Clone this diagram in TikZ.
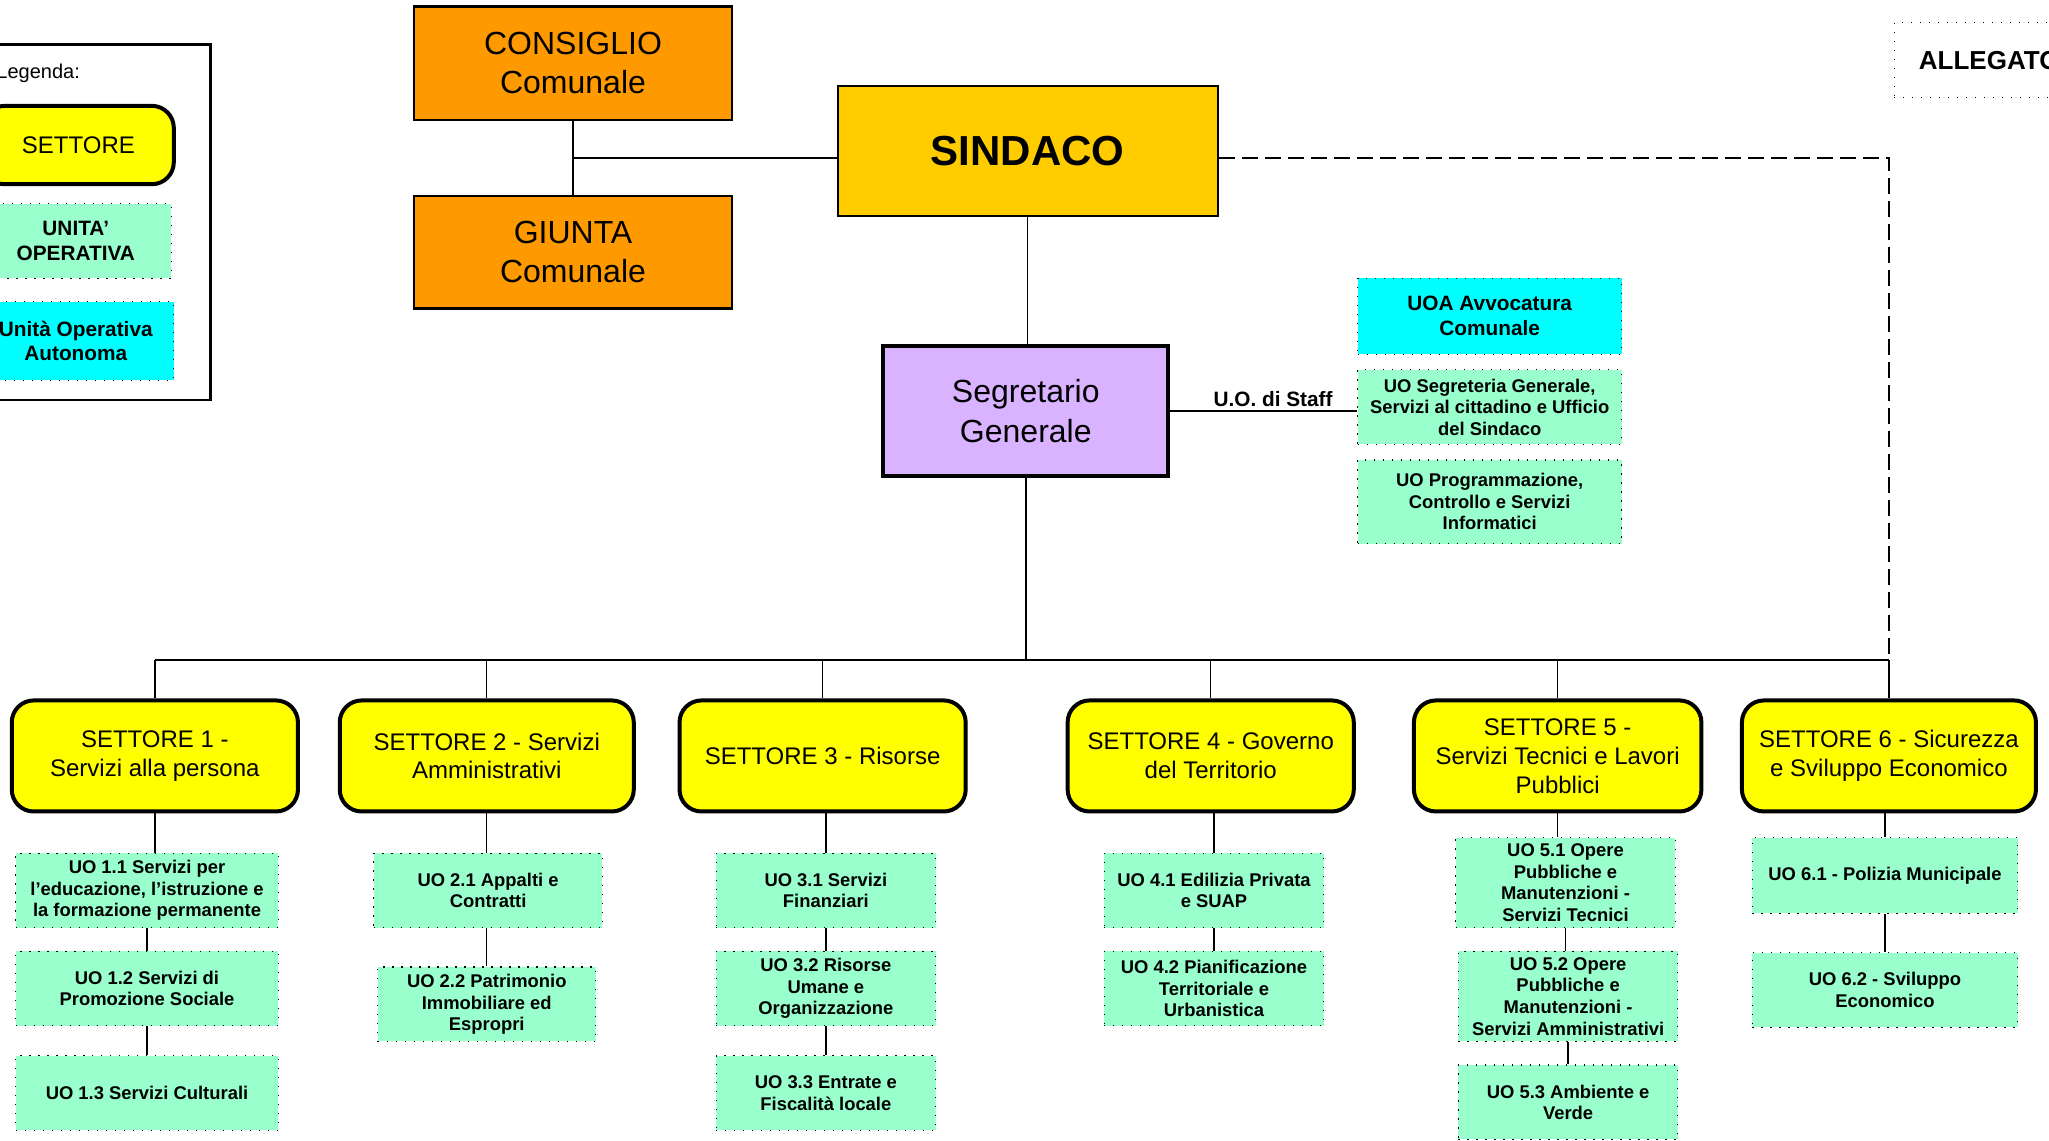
\documentclass[tikz,border=0pt]{standalone}
\usepackage{fontspec}
\setmainfont{Liberation Sans}
\usetikzlibrary{positioning, calc}

\definecolor{arancio}{HTML}{FF9900}
\definecolor{oro}{HTML}{FFCC00}
\definecolor{lilla}{HTML}{D9B3FF}
\definecolor{giallo}{HTML}{FFFF00}
\definecolor{verde}{HTML}{99FFCC}
\definecolor{ciano}{HTML}{00FFFF}

\newcommand\dpx{0.6534pt}
\tikzset{sz/.style 2 args={minimum width=#1*\dpx, minimum height=#2*\dpx}}
\tikzstyle{Link} = [line width=0.7pt]
\tikzstyle{Dash} = [line width=1pt, dash pattern=on 8pt off 3.5pt]

\begin{document}
\begin{tikzpicture}[
x=0.6534pt, y=-0.6534pt,
organo/.style={
    draw, line width=1.2pt, fill=arancio, align=center, inner sep=1pt,
    font=\fontsize{16}{19.6}\selectfont
    },
sindbox/.style={
    draw, line width=1pt, fill=oro, inner sep=1pt,
    font=\fontsize{21}{25}\selectfont\bfseries
    },
segrbox/.style={
    draw, line width=2pt, fill=lilla, align=center, inner sep=1pt,
    font=\fontsize{16}{19.6}\selectfont
    },
settore/.style={
    draw, line width=2pt, fill=giallo, rounded corners=11pt, align=center, inner sep=1pt,
    font=\fontsize{12}{14.4}\selectfont
    },
uo/.style={
    draw, line width=0.6pt, dash pattern=on 0.6pt off 3.9pt, fill=verde, align=center, inner sep=1pt,
    font=\fontsize{9.2}{10.8}\selectfont\bfseries
    },
uoa/.style={
    uo, fill=ciano, font=\fontsize{10.4}{12.4}\selectfont\bfseries
    },
staff/.style={font=\fontsize{10.4}{12.4}\selectfont\bfseries, inner sep=2pt}
]

\useasboundingbox (0,0) rectangle (1568,872.4);
\clip (0,0) rectangle (1568,872.4);

% legenda
\node[draw, line width=1.2pt, sz={171}{272}] (leg) at (75.5,170) {};
\node[anchor=west, inner sep=0, font=\fontsize{10}{12}\selectfont] (legtit) at (-3,56) {Legenda:};
\node[settore, sz={146}{60}] (legset) at (60,111) {SETTORE};
\node[uo, sz={146}{57}, font=\fontsize{10.4}{12.4}\selectfont\bfseries] (leguo) at (58,184.5) {UNITA’\\OPERATIVA};
\node[uoa, sz={150}{60}] (leguoa) at (58,261) {Unità Operativa\\Autonoma};

\node[uo, fill=white, anchor=west, text width=150pt, align=left, inner xsep=12.4pt,
    minimum height=57*\dpx, font=\fontsize{13}{15}\selectfont\bfseries] (alleg) at (1449,46) {ALLEGATO};

% organi
\node[organo, sz={243}{87}] (cons) at (438.5,48.5) {CONSIGLIO\\Comunale};
\node[organo, sz={243}{86}] (giunta) at (438.5,193) {GIUNTA\\Comunale};
\node[sindbox, sz={291}{99}] (sind) at (786.5,115.5) {SINDACO};
\node[segrbox, sz={218}{99}] (segr) at (785,314.5) {Segretario\\Generale};

% staff
\node[uoa, sz={202}{58}] (avv) at (1140,242) {UOA Avvocatura\\Comunale};
\node[uo, sz={202}{57}] (segrgen) at (1140,311.5) {UO Segreteria Generale,\\Servizi al cittadino e Ufficio\\del Sindaco};
\node[uo, sz={202}{64}] (progr) at (1140,384) {UO Programmazione,\\Controllo e Servizi\\Informatici};

% settori
\node[settore, sz={219}{85}] (s1) at (118.5,578.5) {SETTORE 1 -\\Servizi alla persona};
\node[settore, sz={225}{85}] (s2) at (372.5,578.5) {SETTORE 2 - Servizi\\Amministrativi};
\node[settore, sz={219}{85}] (s3) at (629.5,578.5) {SETTORE 3 - Risorse};
\node[settore, sz={219}{85}] (s4) at (926.5,578.5) {SETTORE 4 - Governo\\del Territorio};
\node[settore, sz={220}{85}] (s5) at (1192,578.5) {SETTORE 5 -\\Servizi Tecnici e Lavori\\Pubblici};
\node[settore, sz={225}{85}] (s6) at (1445.5,578.5) {SETTORE 6 - Sicurezza\\e Sviluppo Economico};

% unita' operative
\node[uo, sz={201}{57}] (uo11) at (112.5,681.5) {UO 1.1 Servizi per\\l’educazione, l’istruzione e\\la formazione permanente};
\node[uo, sz={201}{57}] (uo12) at (112.5,756.5) {UO 1.2 Servizi di\\Promozione Sociale};
\node[uo, sz={201}{57}] (uo13) at (112.5,836.5) {UO 1.3 Servizi Culturali};

\node[uo, sz={175}{57}] (uo21) at (373.5,681.5) {UO 2.1 Appalti e\\Contratti};
\node[uo, sz={167}{57}] (uo22) at (372.5,768.5) {UO 2.2 Patrimonio\\Immobiliare ed\\Espropri};

\node[uo, sz={168}{57}] (uo31) at (632,681.5) {UO 3.1 Servizi\\Finanziari};
\node[uo, sz={168}{57}] (uo32) at (632,756.5) {UO 3.2 Risorse\\Umane e\\Organizzazione};
\node[uo, sz={168}{57}] (uo33) at (632,836.5) {UO 3.3 Entrate e\\Fiscalità locale};

\node[uo, sz={168}{57}] (uo41) at (929,681.5) {UO 4.1 Edilizia Privata\\e SUAP};
\node[uo, sz={168}{57}] (uo42) at (929,756.5) {UO 4.2 Pianificazione\\Territoriale e\\Urbanistica};

\node[uo, sz={168}{69}] (uo51) at (1198,675.5) {UO 5.1 Opere\\Pubbliche e\\Manutenzioni -\\Servizi Tecnici};
\node[uo, sz={168}{69}] (uo52) at (1200,762.5) {UO 5.2 Opere\\Pubbliche e\\Manutenzioni -\\Servizi Amministrativi};
\node[uo, sz={168}{57}] (uo53) at (1200,843.5) {UO 5.3 Ambiente e\\Verde};

\node[uo, sz={203}{58}] (uo61) at (1442.5,670) {UO 6.1 - Polizia Municipale};
\node[uo, sz={203}{57}] (uo62) at (1442.5,757.5) {UO 6.2 - Sviluppo\\Economico};

\coordinate (jn) at ($(cons.south)!0.5!(giunta.north)$);
\coordinate (bus) at (785,505);

% collegamenti
\draw[Link] (cons.south) -- (giunta.north);
\draw[Link] (jn) -- (jn -| sind.west);
\draw[Dash] (jn -| sind.east) -| (s6.north |- bus);
\draw[Link] (sind.south) -- (sind.south |- segr.north);
\draw[Link] (segr.east) -- (segr.east -| segrgen.west) node[pos=0.55, above, staff] {U.O. di Staff};
\draw[Link] (segr.south) -- (bus);

\draw[Link] (s1.north |- bus) -- (s6.north |- bus);
\draw[Link] (s1.north |- bus) -- (s1.north);
\draw[Link] (s2.north |- bus) -- (s2.north);
\draw[Link] (s3.north |- bus) -- (s3.north);
\draw[Link] (s4.north |- bus) -- (s4.north);
\draw[Link] (s5.north |- bus) -- (s5.north);
\draw[Link] (s6.north |- bus) -- (s6.north);

\draw[Link] (s1.south) -- (s1.south |- uo11.north);
\draw[Link] (uo11.south) -- (uo12.north);
\draw[Link] (uo12.south) -- (uo13.north);

\draw[Link] (s2.south) -- (s2.south |- uo21.north);
\draw[Link] (uo21.south -| uo22.north) -- (uo22.north);

\draw[Link] (s3.south -| uo31.north) -- (uo31.north);
\draw[Link] (uo31.south) -- (uo32.north);
\draw[Link] (uo32.south) -- (uo33.north);

\draw[Link] (s4.south -| uo41.north) -- (uo41.north);
\draw[Link] (uo41.south) -- (uo42.north);

\draw[Link] (s5.south) -- (s5.south |- uo51.north);
\draw[Link] (uo51.south) -- (uo51.south |- uo52.north);
\draw[Link] (uo52.south) -- (uo53.north);

\draw[Link] (s6.south -| uo61.north) -- (uo61.north);
\draw[Link] (uo61.south) -- (uo62.north);

\end{tikzpicture}
\end{document}
